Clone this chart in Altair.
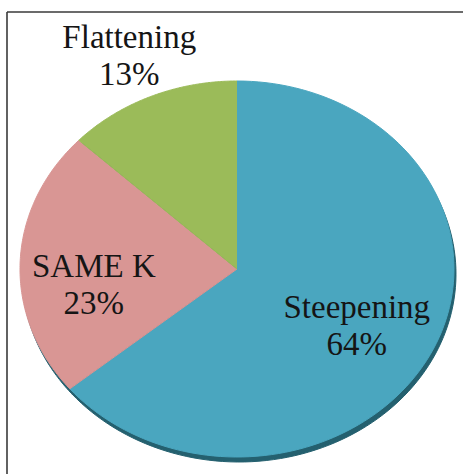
import altair as alt
import pandas as pd

# ---- data ----
categories = ["Steepening", "SAME K", "Flattening"]
values = [64, 23, 13]
colors = ["#4AA6BF", "#D99694", "#9BBB59"]
label_radius = [0.61, 0.66, 1.25]
label_drop = [-0.05, 0.01, -0.08]

df = pd.DataFrame({
    "cat": categories,
    "value": values,
    "ord": list(range(len(categories))),
    "lr": label_radius,
    "ld": label_drop,
})

color_scale = alt.Scale(domain=categories, range=colors)
xs = alt.Scale(domain=[-1, 1], nice=False, zero=False)
ys = alt.Scale(domain=[-1, 1], nice=False, zero=False)

base = (
    alt.Chart(df)
    .transform_window(cum="sum(value)", sort=[alt.SortField("ord")])
    .transform_joinaggregate(total="sum(value)")
    .transform_calculate(
        a0="2*PI*(datum.cum-datum.value)/datum.total",
        a1="2*PI*datum.cum/datum.total",
    )
)

pts = (
    base.transform_calculate(t="sequence(-1, 121)")
    .transform_flatten(["t"])
    .transform_calculate(ang="datum.a0 + (datum.a1-datum.a0)*datum.t/120")
    .transform_calculate(
        px="datum.t < 0 ? 0 : sin(datum.ang)",
        py="datum.t < 0 ? 0 : cos(datum.ang)",
    )
)

rim = pts.mark_line(
    fill="#24606F", stroke="#24606F", strokeWidth=1, xOffset=2, yOffset=5
).encode(
    x=alt.X("px:Q", scale=xs, axis=None),
    y=alt.Y("py:Q", scale=ys, axis=None),
    order=alt.Order("t:Q"),
    detail=alt.Detail("cat:N"),
)

slices = pts.mark_line(strokeWidth=1).encode(
    x=alt.X("px:Q", scale=xs, axis=None),
    y=alt.Y("py:Q", scale=ys, axis=None),
    order=alt.Order("t:Q"),
    fill=alt.Fill("cat:N", scale=color_scale, legend=None),
    stroke=alt.Stroke("cat:N", scale=color_scale, legend=None),
)

labels = (
    base.transform_calculate(mid="(datum.a0+datum.a1)/2")
    .transform_calculate(
        lx="datum.lr*sin(datum.mid)",
        ly="datum.lr*cos(datum.mid) - datum.ld",
        txt="datum.cat + '\\n' + round(datum.value/datum.total*100) + '%'",
    )
    .mark_text(
        font="Liberation Serif", fontSize=33, lineHeight=37, lineBreak="\n",
        color="#151515", align="center", baseline="middle",
    )
    .encode(
        x=alt.X("lx:Q", scale=xs, axis=None),
        y=alt.Y("ly:Q", scale=ys, axis=None),
        text="txt:N",
    )
)

one = alt.Chart(pd.DataFrame({"k": [0]}))
frame_v = one.mark_rule(color="#3A3A3A", strokeWidth=1.6).encode(
    x=alt.value(-13), y=alt.value(-69), y2=alt.value(420)
)
frame_h = one.mark_rule(color="#3A3A3A", strokeWidth=1.6).encode(
    x=alt.value(-13), x2=alt.value(460), y=alt.value(-69)
)

chart = (
    alt.layer(frame_v, frame_h, rim, slices, labels)
    .properties(
        width=434, height=376, autosize="none",
        padding={"left": 20, "top": 81, "right": 9, "bottom": 17},
        background="white",
    )
    .configure_view(stroke=None)
)

chart.save("out.html", embed_options={"renderer": "svg", "actions": False})
